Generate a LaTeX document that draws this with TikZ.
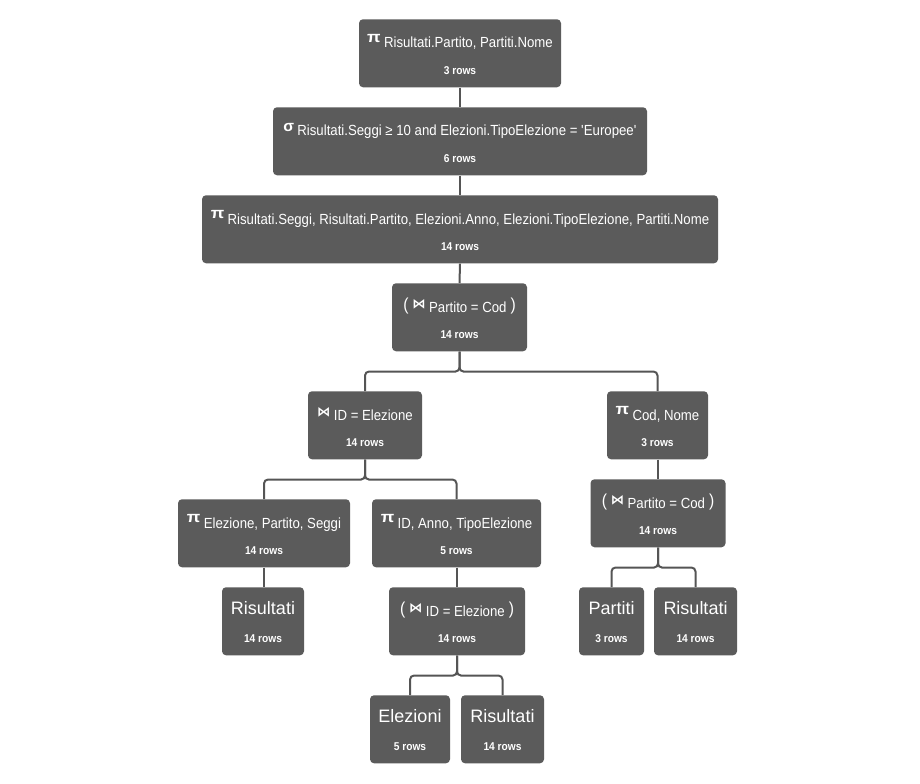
\documentclass[tikz,border=0pt]{standalone}
\usepackage{fontspec}
\usepackage{graphicx}
\setmainfont{Liberation Sans}
\newfontfamily\nfont{Liberation Sans}[FakeStretch=0.9]
\newfontfamily\djv{DejaVu Sans}
\definecolor{boxgray}{HTML}{5B5B5B}
\definecolor{linegray}{HTML}{555555}
\newcommand\PIs{\raisebox{4pt}{\bfseries\fontsize{10.5}{10.5}\selectfont\scalebox{1.4}[1.1]{π}}\hspace{2.5pt}}
\newcommand\SIGs{\raisebox{3pt}{\bfseries\fontsize{10.5}{10.5}\selectfont\scalebox{1.25}[1.1]{σ}}\hspace{2.5pt}}
\newcommand\BTs{\raisebox{2.5pt}{\djv\bfseries\fontsize{10}{10}\selectfont ⋈}\hspace{2.5pt}}
\newcommand\LPs{\raisebox{1.5pt}{\fontsize{13}{13}\selectfont(}\hspace{3pt}}
\newcommand\RPs{\hspace{3pt}\raisebox{1.5pt}{\fontsize{13}{13}\selectfont)}}
\tikzset{
  opbox/.style={fill=boxgray, rounded corners=3pt, minimum height=51pt, inner sep=0pt, anchor=north},
  mainlab/.style={text=white, font=\nfont\fontsize{11}{13}\selectfont, anchor=base, inner sep=0pt},
  biglab/.style={text=white, font=\fontsize{13.5}{16}\selectfont, anchor=base, inner sep=0pt},
  rowlab/.style={text=white, font=\nfont\bfseries\fontsize{8.5}{10}\selectfont, anchor=base, inner sep=0pt},
  conn/.style={draw=linegray, line width=1.5pt, rounded corners=3pt},
}
% name, cx, top, width, label, rows
\newcommand\opnode[6]{%
  \node[opbox, minimum width={#4*0.75pt}] (#1) at (#2,#3) {};
  \node[mainlab] (#1-t) at ([yshift=-21.75pt]#1.north) {#5};
  \node[rowlab] (#1-r) at ([yshift=-41.6pt]#1.north) {#6};}
\newcommand\tabnode[6]{%
  \node[opbox, minimum width={#4*0.75pt}] (#1) at (#2,#3) {};
  \node[biglab] (#1-t) at ([yshift=-20.25pt]#1.north) {#5};
  \node[rowlab] (#1-r) at ([yshift=-41.6pt]#1.north) {#6};}
\begin{document}
\begin{tikzpicture}[x=0.75pt, y=-0.75pt]
\useasboundingbox (0,0) rectangle (920,784);
\opnode{n1}{460}{19}{202}{\PIs Risultati.Partito, Partiti.Nome}{3 rows}
\opnode{n2}{460}{107}{374}{\SIGs Risultati.Seggi ≥ 10 and Elezioni.TipoElezione = \textquotesingle Europee\textquotesingle}{6 rows}
\opnode{n3}{460}{195}{516}{\PIs Risultati.Seggi, Risultati.Partito, Elezioni.Anno, Elezioni.TipoElezione, Partiti.Nome}{14 rows}
\opnode{n4}{459.5}{283}{135}{\LPs\BTs Partito = Cod\RPs}{14 rows}
\opnode{n5}{365}{391}{114}{\BTs ID = Elezione}{14 rows}
\opnode{n6}{657.5}{391}{101}{\PIs Cod, Nome}{3 rows}
\opnode{n7}{264}{499}{172}{\PIs Elezione, Partito, Seggi}{14 rows}
\opnode{n8}{456.5}{499}{169}{\PIs ID, Anno, TipoElezione}{5 rows}
\opnode{n9}{658}{479}{135}{\LPs\BTs Partito = Cod\RPs}{14 rows}
\tabnode{n10}{263}{587}{82}{Risultati}{14 rows}
\opnode{n11}{457}{587}{136}{\LPs\BTs ID = Elezione\RPs}{14 rows}
\tabnode{n12}{611.5}{587}{65}{Partiti}{3 rows}
\tabnode{n13}{695.5}{587}{83}{Risultati}{14 rows}
\tabnode{n14}{410}{695}{80}{Elezioni}{5 rows}
\tabnode{n15}{502.5}{695}{83}{Risultati}{14 rows}
% connectors
\draw[conn] (n1.south) -- (n2.north);
\draw[conn] (n2.south) -- (n3.north);
\draw[conn] (n3.south) -- (n4.north);
\draw[conn] (n4.south) -- ++(0,20) -| (n5.north);
\draw[conn] (n4.south) -- ++(0,20) -| (n6.north);
\draw[conn] (n5.south) -- ++(0,20) -| (n7.north);
\draw[conn] (n5.south) -- ++(0,20) -| (n8.north);
\draw[conn] (n6.south) -- (n6.south |- n9.north);
\draw[conn] (n7.south) -- (n7.south |- n10.north);
\draw[conn] (n8.south) -- (n8.south |- n11.north);
\draw[conn] (n9.south) -- ++(0,20) -| (n12.north);
\draw[conn] (n9.south) -- ++(0,20) -| (n13.north);
\draw[conn] (n11.south) -- ++(0,20) -| (n14.north);
\draw[conn] (n11.south) -- ++(0,20) -| (n15.north);
\end{tikzpicture}
\end{document}
